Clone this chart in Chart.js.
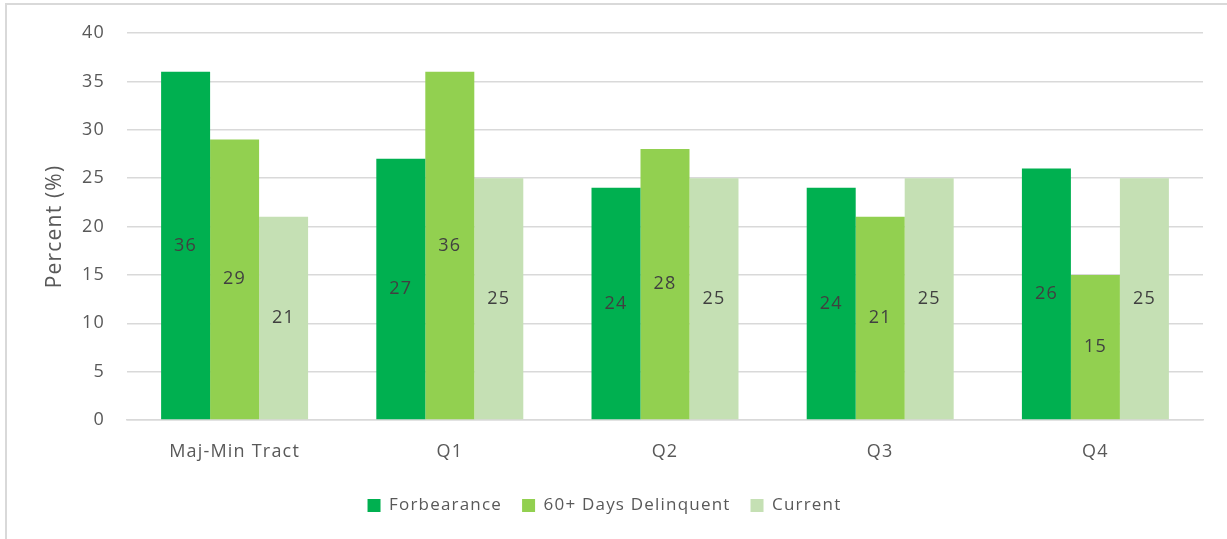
<!DOCTYPE html>
<html>
<head>
<meta charset="utf-8">
<script src="https://cdn.jsdelivr.net/npm/chart.js@4.4.1/dist/chart.umd.min.js"></script>
<style>
  html, body { margin: 0; padding: 0; background: #fff; overflow: hidden; }
  #frame { position: absolute; left: 5px; top: 3px; width: 1400px; height: 700px; border: 2px solid #d9d9d9; }
  #wrap { position: absolute; left: 0; top: 0; width: 1227px; height: 539px; }
</style>
</head>
<body>
<div id="frame"></div>
<div id="wrap"><canvas id="chart"></canvas></div>
<script>
// Données du graphique
const categories = ['Maj-Min Tract', 'Q1', 'Q2', 'Q3', 'Q4'];
const forbearance = [36, 27, 24, 24, 26];
const delinquent60 = [29, 36, 28, 21, 15];
const current = [21, 25, 25, 25, 25];
const yTicks = [0, 5, 10, 15, 20, 25, 30, 35, 40];

const FONT = '"Open Sans", "Noto Sans", sans-serif';
const SPACING = '1.2px';

// Espacement des lettres (le canvas le perd à chaque redimensionnement)
const letterSpacing = {
    id: 'letterSpacing',
    beforeUpdate(chart) { chart.ctx.letterSpacing = SPACING; },
    beforeLayout(chart) { chart.ctx.letterSpacing = SPACING; },
    beforeDraw(chart) { chart.ctx.letterSpacing = SPACING; },
    // Léger décalage de la légende vers la droite
    afterLayout(chart) {
        chart.legend.left += 3;
        chart.legend.right += 3;
    }
};

// Étiquettes de valeur au centre des barres
const barLabels = {
    id: 'barLabels',
    afterDatasetsDraw(chart) {
        const ctx = chart.ctx;
        ctx.save();
        ctx.font = '18px ' + FONT;
        ctx.fillStyle = '#404040';
        ctx.textAlign = 'center';
        ctx.textBaseline = 'middle';
        chart.data.datasets.forEach((ds, i) => {
            chart.getDatasetMeta(i).data.forEach((bar, j) => {
                const { x, y, base } = bar.getProps(['x', 'y', 'base'], true);
                ctx.fillText(ds.data[j], x, (y + base) / 2);
            });
        });
        ctx.restore();
    }
};

new Chart(document.getElementById('chart'), {
    type: 'bar',
    data: {
        labels: categories,
        datasets: [
            { label: 'Forbearance', data: forbearance, backgroundColor: '#00B050' },
            { label: '60+ Days Delinquent', data: delinquent60, backgroundColor: '#92D050' },
            { label: 'Current', data: current, backgroundColor: '#C5E0B4' }
        ]
    },
    options: {
        responsive: true,
        maintainAspectRatio: false,
        animation: false,
        layout: { padding: { top: 33, right: 24, bottom: 15, left: 0 } },
        datasets: { bar: { categoryPercentage: 0.683, barPercentage: 1 } },
        scales: {
            x: {
                grid: { display: false },
                border: { color: '#d9d9d9', width: 1.5 },
                ticks: { color: '#595959', font: { family: FONT, size: 18 }, padding: 13 },
                afterFit: (scale) => { scale.height = 57; }
            },
            y: {
                min: 0,
                max: 40,
                afterBuildTicks: (scale) => { scale.ticks = yTicks.map(v => ({ value: v })); },
                grid: { color: '#d9d9d9', lineWidth: 1.5, drawTicks: false },
                border: { display: false },
                ticks: { color: '#595959', font: { family: FONT, size: 18 }, padding: 22 },
                title: {
                    display: true,
                    text: 'Percent (%)',
                    color: '#595959',
                    font: { family: FONT, size: 21 },
                    padding: { top: 42, bottom: 0 }
                },
                afterFit: (scale) => { scale.width = 127; }
            }
        },
        plugins: {
            legend: {
                position: 'bottom',
                labels: {
                    color: '#595959',
                    font: { family: FONT, size: 17 },
                    boxWidth: 13,
                    boxHeight: 13,
                    padding: 20
                }
            },
            tooltip: { enabled: false }
        }
    },
    plugins: [letterSpacing, barLabels]
});
</script>
</body>
</html>
